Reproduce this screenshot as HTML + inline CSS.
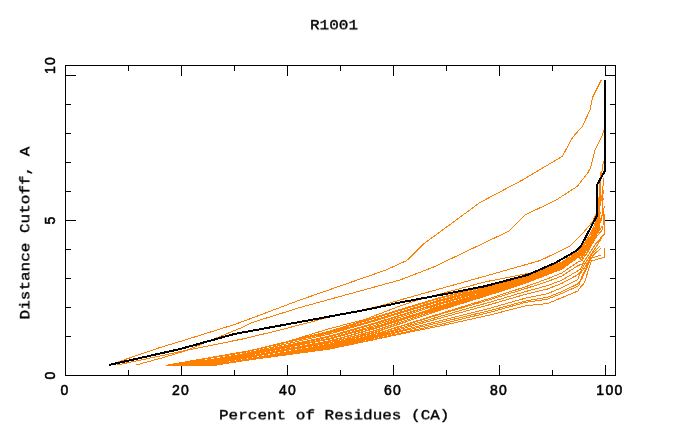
<!DOCTYPE html>
<html><head><meta charset="utf-8"><title>R1001</title>
<style>
html,body{margin:0;padding:0;background:#fff;}
body{width:680px;height:440px;position:relative;overflow:hidden;font-family:"Liberation Sans",sans-serif;}
.m{position:absolute;font-family:"Liberation Mono",monospace;font-weight:normal;-webkit-text-stroke:0.4px #000;font-size:16px;line-height:16px;white-space:pre;color:#000;will-change:transform;transform:scaleY(0.84);transform-origin:50% 50%;}
.m.r{transform:rotate(-90deg) scaleY(0.84);}
.t{position:absolute;font-family:"Liberation Sans",sans-serif;font-weight:normal;-webkit-text-stroke:0.55px #000;font-size:14px;line-height:14px;letter-spacing:1.3px;white-space:pre;color:#000;text-align:center;width:40px;will-change:transform;}
.r{transform:rotate(-90deg);transform-origin:center center;}
</style></head><body>
<svg width="680" height="440" viewBox="0 0 680 440" shape-rendering="crispEdges" style="position:absolute;left:0;top:0">
<g stroke="#000" stroke-width="1" fill="none">
<rect x="65.5" y="65.5" width="550" height="310"/>
<line x1="128.5" y1="65" x2="128.5" y2="71"/>
<line x1="128.5" y1="370" x2="128.5" y2="376"/>
<line x1="181.5" y1="65" x2="181.5" y2="76"/>
<line x1="181.5" y1="365" x2="181.5" y2="376"/>
<line x1="234.5" y1="65" x2="234.5" y2="71"/>
<line x1="234.5" y1="370" x2="234.5" y2="376"/>
<line x1="287.5" y1="65" x2="287.5" y2="76"/>
<line x1="287.5" y1="365" x2="287.5" y2="376"/>
<line x1="340.5" y1="65" x2="340.5" y2="71"/>
<line x1="340.5" y1="370" x2="340.5" y2="376"/>
<line x1="393.5" y1="65" x2="393.5" y2="76"/>
<line x1="393.5" y1="365" x2="393.5" y2="376"/>
<line x1="446.5" y1="65" x2="446.5" y2="71"/>
<line x1="446.5" y1="370" x2="446.5" y2="376"/>
<line x1="499.5" y1="65" x2="499.5" y2="76"/>
<line x1="499.5" y1="365" x2="499.5" y2="376"/>
<line x1="552.5" y1="65" x2="552.5" y2="71"/>
<line x1="552.5" y1="370" x2="552.5" y2="376"/>
<line x1="605.5" y1="65" x2="605.5" y2="76"/>
<line x1="605.5" y1="365" x2="605.5" y2="376"/>
<line x1="65" y1="336.5" x2="71" y2="336.5"/>
<line x1="610" y1="336.5" x2="616" y2="336.5"/>
<line x1="65" y1="307.5" x2="71" y2="307.5"/>
<line x1="610" y1="307.5" x2="616" y2="307.5"/>
<line x1="65" y1="278.5" x2="71" y2="278.5"/>
<line x1="610" y1="278.5" x2="616" y2="278.5"/>
<line x1="65" y1="249.5" x2="71" y2="249.5"/>
<line x1="610" y1="249.5" x2="616" y2="249.5"/>
<line x1="65" y1="220.5" x2="76" y2="220.5"/>
<line x1="605" y1="220.5" x2="616" y2="220.5"/>
<line x1="65" y1="191.5" x2="71" y2="191.5"/>
<line x1="610" y1="191.5" x2="616" y2="191.5"/>
<line x1="65" y1="162.5" x2="71" y2="162.5"/>
<line x1="610" y1="162.5" x2="616" y2="162.5"/>
<line x1="65" y1="133.5" x2="71" y2="133.5"/>
<line x1="610" y1="133.5" x2="616" y2="133.5"/>
<line x1="65" y1="104.5" x2="71" y2="104.5"/>
<line x1="610" y1="104.5" x2="616" y2="104.5"/>
<line x1="65" y1="75.5" x2="76" y2="75.5"/>
<line x1="605" y1="75.5" x2="616" y2="75.5"/>
</g>
<g>
<polyline points="115.0,363.0 160.0,347.5 185.0,340.0 233.0,325.0 250.0,318.8 300.0,300.0 386.0,270.0 406.8,260.5 423.8,243.8 480.0,202.5 522.5,180.0 562.5,156.2 572.5,137.5 582.5,126.2 590.0,110.0 592.5,97.5 601.2,80.0" fill="none" stroke="#ff7f00" stroke-width="1"/>
<polyline points="136.0,365.0 160.0,358.5 185.0,351.0 245.0,326.2 250.0,323.2 300.0,307.5 400.0,280.0 432.5,267.5 508.8,231.2 525.0,215.0 556.2,200.0 577.5,186.2 588.0,172.5 590.6,167.5 595.0,150.0 602.5,135.0 603.8,130.0" fill="none" stroke="#ff7f00" stroke-width="1"/>
<polyline points="117.0,365.0 160.0,356.0 185.0,350.6 245.0,338.5 280.0,330.0 330.0,317.0 380.0,306.0 400.0,300.0 485.0,276.2 540.0,260.6 570.0,246.2 581.2,235.0 592.5,221.9 598.0,210.0 600.0,185.0 603.4,161.0" fill="none" stroke="#ff7f00" stroke-width="1"/>
<polyline points="166.0,365.3 250.0,350.6 280.0,343.8 330.0,328.5 365.0,319.4 400.0,306.0 416.0,300.5 485.0,281.9 535.0,272.0 562.0,262.0 580.0,249.0 592.0,232.0 599.0,212.0 602.0,195.0 604.0,178.0" fill="none" stroke="#ff7f00" stroke-width="1"/>
<polyline points="166.0,365.3 190.0,361.2 215.0,356.9 245.0,351.8 282.0,342.9 330.0,331.0 375.0,317.2 415.0,305.0 440.0,297.5 470.0,289.9 490.0,284.9 525.0,276.0 547.5,268.1 562.0,263.0 578.0,252.0 582.6,247.1 591.0,236.1 596.4,223.4 598.7,208.2" fill="none" stroke="#ff7f00" stroke-width="1"/>
<polyline points="166.0,365.3 190.0,361.4 215.0,357.4 245.0,352.2 282.0,343.5 330.0,331.8 375.0,318.2 415.0,305.9 440.0,298.3 470.0,290.6 490.0,285.4 525.0,276.4 547.5,268.5 562.0,263.4 578.0,252.3 582.4,245.5 591.3,235.4 597.5,225.5 600.1,208.5" fill="none" stroke="#ff7f00" stroke-width="1"/>
<polyline points="166.0,365.3 190.0,361.4 215.0,357.1 245.0,351.8 282.0,343.4 330.0,332.7 375.0,319.8 415.0,307.5 440.0,299.8 470.0,291.8 490.0,286.4 525.0,277.0 547.5,268.9 562.0,263.7 578.0,252.6 584.0,246.4 589.2,235.8 595.4,222.7 598.5,213.1" fill="none" stroke="#ff7f00" stroke-width="1"/>
<polyline points="166.0,365.3 190.0,361.5 215.0,357.2 245.0,351.8 282.0,343.2 330.0,332.7 375.0,320.0 415.0,307.9 440.0,300.3 470.0,292.3 490.0,286.9 525.0,277.3 547.5,269.1 562.0,263.9 578.0,252.7 584.3,248.1 590.8,236.2 597.7,224.8 600.6,211.8" fill="none" stroke="#ff7f00" stroke-width="1"/>
<polyline points="166.0,365.3 190.0,362.2 215.0,358.9 245.0,353.5 282.0,344.9 330.0,333.9 375.0,320.9 415.0,308.7 440.0,301.1 470.0,293.2 490.0,287.8 525.0,278.3 547.5,270.0 562.0,264.8 578.0,253.6 584.2,247.6 590.0,238.2 596.7,225.0 599.1,214.0" fill="none" stroke="#ff7f00" stroke-width="1"/>
<polyline points="166.0,365.3 190.0,362.4 215.0,359.3 245.0,353.7 282.0,345.0 330.0,333.8 375.0,320.8 415.0,308.8 440.0,301.3 470.0,293.4 490.0,288.1 525.0,278.5 547.5,270.3 562.0,265.0 578.0,253.8 583.2,251.4 588.7,240.5 598.0,227.4 600.6,217.9" fill="none" stroke="#ff7f00" stroke-width="1"/>
<polyline points="166.0,365.3 190.0,362.7 215.0,359.9 245.0,354.5 282.0,346.4 330.0,335.9 375.0,323.0 415.0,310.5 440.0,302.8 470.0,294.5 490.0,289.0 525.0,279.1 547.5,270.8 562.0,265.5 578.0,254.2 583.6,249.3 589.3,239.6 596.7,228.3 601.9,217.9 603.2,190.0" fill="none" stroke="#ff7f00" stroke-width="1"/>
<polyline points="166.0,365.3 190.0,362.6 215.0,359.7 245.0,354.7 282.0,347.0 330.0,336.8 375.0,323.8 415.0,311.0 440.0,303.0 470.0,294.5 490.0,288.8 525.0,278.9 547.5,270.6 562.0,265.3 578.0,254.1 581.8,251.0 590.6,239.2 597.8,230.0 602.1,214.7" fill="none" stroke="#ff7f00" stroke-width="1"/>
<polyline points="166.0,365.3 190.0,362.7 215.0,360.0 245.0,355.0 282.0,347.8 330.0,338.2 375.0,325.4 415.0,312.3 440.0,304.1 470.0,295.3 490.0,289.5 525.0,279.3 547.5,270.9 562.0,265.5 578.0,254.3 583.5,252.9 588.5,242.0 596.1,230.2 599.7,217.2 601.0,172.0" fill="none" stroke="#ff7f00" stroke-width="1"/>
<polyline points="166.0,365.3 190.0,363.0 215.0,360.7 245.0,355.7 282.0,348.4 330.0,338.4 375.0,325.4 415.0,312.4 440.0,304.2 470.0,295.5 490.0,289.8 525.0,279.6 547.5,271.3 562.0,265.9 578.0,254.7 583.1,252.3 589.9,241.9 595.3,231.9 599.0,218.8" fill="none" stroke="#ff7f00" stroke-width="1"/>
<polyline points="166.0,365.3 190.0,363.5 215.0,361.8 245.0,357.2 282.0,350.6 330.0,341.1 375.0,328.0 415.0,314.3 440.0,305.8 470.0,296.7 490.0,290.7 525.0,280.2 547.5,271.9 562.0,266.4 578.0,255.2 582.9,254.2 589.4,241.4 594.8,232.8 599.1,221.4" fill="none" stroke="#ff7f00" stroke-width="1"/>
<polyline points="166.0,365.3 190.0,363.6 215.0,361.6 245.0,356.1 282.0,348.5 330.0,339.0 375.0,326.8 415.0,314.2 440.0,306.2 470.0,297.5 490.0,291.6 525.0,281.0 547.5,272.4 562.0,266.9 578.0,255.6 582.2,254.6 590.2,242.3 594.2,231.7 598.6,219.9 599.9,182.0" fill="none" stroke="#ff7f00" stroke-width="1"/>
<polyline points="166.0,365.3 190.0,364.1 215.0,363.2 245.0,358.4 282.0,351.2 330.0,341.4 375.0,328.4 415.0,315.1 440.0,306.9 470.0,297.9 490.0,292.0 525.0,281.4 547.5,272.9 562.0,267.4 578.0,256.1 584.0,255.2 588.8,244.0 595.8,233.1 601.8,219.3 603.1,198.0" fill="none" stroke="#ff7f00" stroke-width="1"/>
<polyline points="166.0,365.3 190.0,364.0 215.0,362.5 245.0,357.1 282.0,349.8 330.0,340.7 375.0,328.6 415.0,315.7 440.0,307.7 470.0,298.7 490.0,292.6 525.0,281.8 547.5,273.1 562.0,267.6 578.0,256.1 582.5,255.7 587.1,247.3 595.2,232.1 598.7,225.6" fill="none" stroke="#ff7f00" stroke-width="1"/>
<polyline points="166.0,365.3 190.0,364.2 215.0,363.0 245.0,357.9 282.0,351.3 330.0,342.8 375.0,330.6 415.0,317.2 440.0,308.8 470.0,299.5 490.0,293.2 525.0,282.1 547.5,273.4 562.0,267.9 578.0,256.4 583.6,258.2 586.9,246.4 593.6,235.0 598.8,223.1 600.1,176.0" fill="none" stroke="#ff7f00" stroke-width="1"/>
<polyline points="166.0,365.3 190.0,364.5 215.0,363.5 245.0,358.2 282.0,351.3 330.0,342.5 375.0,330.4 415.0,317.3 440.0,309.0 470.0,299.8 490.0,293.6 525.0,282.5 547.5,273.8 562.0,268.2 578.0,256.8 581.7,257.4 587.6,248.9 594.9,235.0 599.0,224.6" fill="none" stroke="#ff7f00" stroke-width="1"/>
<polyline points="166.0,365.3 190.0,364.7 215.0,364.3 245.0,359.6 282.0,353.2 330.0,345.0 375.0,332.6 415.0,318.7 440.0,310.1 470.0,300.4 490.0,294.1 525.0,282.8 547.5,274.1 562.0,268.5 578.0,257.0 581.1,257.0 589.6,246.4 595.6,236.6 600.2,225.7" fill="none" stroke="#ff7f00" stroke-width="1"/>
<polyline points="166.0,365.3 190.0,365.0 215.0,364.7 245.0,359.6 282.0,352.7 330.0,344.0 375.0,331.9 415.0,318.7 440.0,310.4 470.0,301.0 490.0,294.8 525.0,283.4 547.5,274.7 562.0,269.0 578.0,257.5 582.3,260.0 587.9,250.5 596.0,235.8 602.0,226.2" fill="none" stroke="#ff7f00" stroke-width="1"/>
<polyline points="166.0,365.3 190.0,365.0 215.0,364.7 245.0,359.6 282.0,353.4 330.0,345.6 375.0,334.1 415.0,321.5 440.0,313.6 470.0,304.4 490.0,298.3 525.0,286.9 547.5,278.8 562.0,272.9 578.0,261.9 580.9,261.0 587.1,253.2 595.4,238.1 602.8,229.3 604.1,206.0" fill="none" stroke="#ff7f00" stroke-width="1"/>
<polyline points="166.0,365.3 190.0,365.1 215.0,364.8 245.0,359.8 282.0,353.7 330.0,345.9 375.0,334.4 415.0,322.0 440.0,314.3 470.0,305.5 490.0,299.6 525.0,288.8 547.5,281.6 562.0,275.9 578.0,265.6 582.4,263.8 587.5,256.5 596.8,242.3 604.2,234.2 605.0,214.0" fill="none" stroke="#ff7f00" stroke-width="1"/>
<polyline points="166.0,365.3 190.0,365.1 215.0,364.9 245.0,360.0 282.0,354.2 330.0,346.7 375.0,335.5 415.0,323.7 440.0,316.4 470.0,307.8 490.0,302.2 525.0,291.7 547.5,285.6 562.0,280.1 578.0,270.7 580.4,269.4 585.7,258.9 594.5,245.4 602.0,237.5" fill="none" stroke="#ff7f00" stroke-width="1"/>
<polyline points="166.0,365.3 190.0,365.1 215.0,365.0 245.0,360.1 282.0,354.5 330.0,347.1 375.0,336.3 415.0,325.1 440.0,318.2 470.0,310.0 490.0,304.6 525.0,294.4 547.5,289.0 562.0,283.3 578.0,274.6 579.9,272.8 584.8,263.7 593.3,251.1 600.7,239.7" fill="none" stroke="#ff7f00" stroke-width="1"/>
<polyline points="166.0,365.3 190.0,365.2 215.0,365.0 245.0,360.1 282.0,354.5 330.0,347.4 375.0,337.0 415.0,326.9 440.0,320.8 470.0,313.2 490.0,308.2 525.0,298.3 547.5,293.6 562.0,287.7 578.0,279.3 579.4,274.7 585.9,265.8 592.4,253.1 600.5,245.8" fill="none" stroke="#ff7f00" stroke-width="1"/>
<polyline points="166.0,365.3 190.0,365.2 215.0,365.1 245.0,360.3 282.0,354.9 330.0,347.9 375.0,337.8 415.0,328.2 440.0,322.5 470.0,315.3 490.0,310.6 525.0,301.1 547.5,297.3 562.0,291.5 578.0,283.8 581.8,279.2 586.0,269.5 592.6,255.8 601.5,247.5" fill="none" stroke="#ff7f00" stroke-width="1"/>
<polyline points="166.0,365.3 190.0,365.2 215.0,365.2 245.0,360.4 282.0,355.3 330.0,348.7 375.0,339.0 415.0,329.9 440.0,324.4 470.0,317.1 490.0,312.3 525.0,302.5 547.5,299.2 562.0,293.3 578.0,286.1 579.3,284.4 582.3,275.7 591.2,258.2 601.0,255.1" fill="none" stroke="#ff7f00" stroke-width="1"/>
<polyline points="166.0,365.3 190.0,365.3 215.0,365.3 245.0,360.5 282.0,355.5 330.0,349.0 375.0,339.5 415.0,331.0 440.0,326.0 470.0,319.4 490.0,315.0 525.0,305.9 547.5,303.5 562.0,297.6 578.0,291.0 578.8,289.1 584.5,282.7 591.2,261.0 604.2,257.3 605.0,248.0" fill="none" stroke="#ff7f00" stroke-width="1"/>
<polyline points="109.0,365.0 181.0,348.8 235.0,333.8 245.0,332.0 280.0,325.6 365.0,310.0 400.0,302.5 440.0,295.0 485.0,286.2 527.5,275.0 555.0,263.0 570.0,254.4 577.5,250.0 581.2,245.6 597.0,215.6 597.0,185.0 605.0,170.6 605.0,80.0" fill="none" stroke="#000" stroke-width="2"/>
</g>
</svg>
<div class="m" style="left:309.5px;top:18.3px;">R1001</div>
<div class="m" style="left:219px;top:408.3px;">Percent of Residues (CA)</div>
<div class="m r" style="left:-60.8px;top:224.5px;width:174px;text-align:center;">Distance Cutoff, A</div>
<div class="t" style="left:45px;top:383px;">0</div>
<div class="t" style="left:160.5px;top:383px;">20</div>
<div class="t" style="left:267.5px;top:383px;">40</div>
<div class="t" style="left:372.5px;top:383px;">60</div>
<div class="t" style="left:478.5px;top:383px;">80</div>
<div class="t" style="left:589.5px;top:383px;">100</div>
<div class="t r" style="left:30px;top:58px;">10</div>
<div class="t r" style="left:30px;top:213px;">5</div>
<div class="t r" style="left:30px;top:368px;">0</div>
</body></html>
